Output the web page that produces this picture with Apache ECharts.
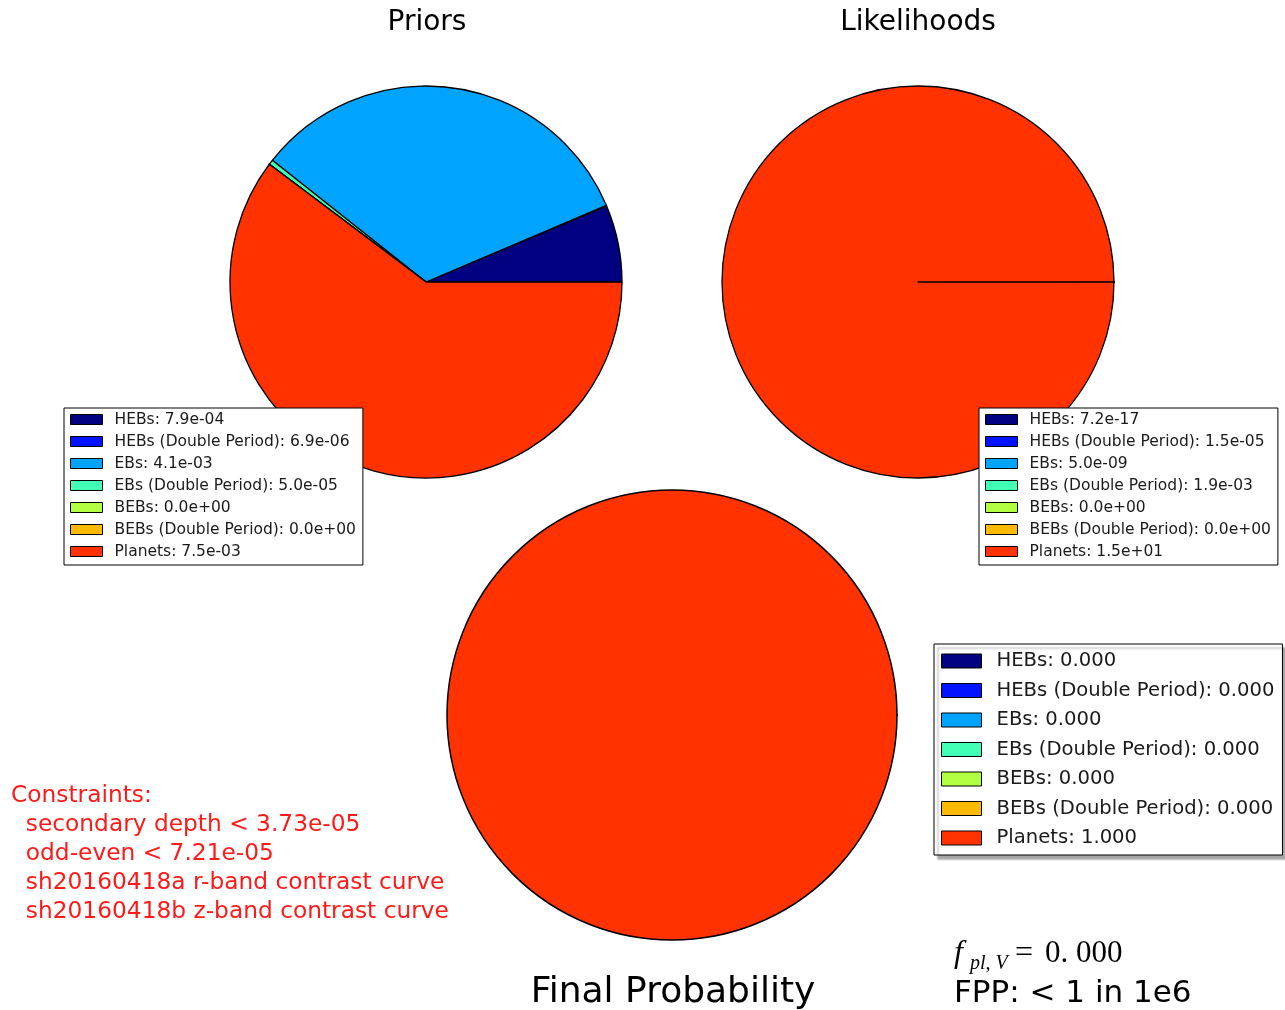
<!DOCTYPE html>
<html>
<head>
<meta charset="utf-8">
<script src="https://cdn.jsdelivr.net/npm/echarts@6/dist/echarts.min.js"></script>
<style>
  html, body { margin: 0; padding: 0; background: #fff; }
  #chart { width: 1285px; height: 1010px; }
</style>
</head>
<body>
<div id="chart"></div>
<script>
// scenario names, same order for all three pies
const categories = ['HEBs', 'HEBs (Double Period)', 'EBs', 'EBs (Double Period)', 'BEBs', 'BEBs (Double Period)', 'Planets'];
const priorValues = [7.9e-4, 6.9e-6, 4.1e-3, 5.0e-5, 0, 0, 7.5e-3];
const likelihoodValues = [7.2e-17, 1.5e-5, 5.0e-9, 1.9e-3, 0, 0, 1.5e1];
const finalValues = [0, 0, 0, 0, 0, 0, 1];
const sliceColors = ['#000080', '#0012ff', '#00a4ff', '#41ffb5', '#b1ff41', '#ffb900', '#ff3200'];
const constraintLines = ['Constraints:', '  secondary depth < 3.73e-05', '  odd-even < 7.21e-05', '  sh20160418a r-band contrast curve', '  sh20160418b z-band contrast curve'];
const fplValue = '0. 000';
const fppText = 'FPP: < 1 in 1e6';

function sci(v) {
  // matplotlib style 7.9e-04
  const s = v.toExponential(1);
  const [m, e] = s.split('e');
  const sign = e[0];
  let d = e.slice(1);
  if (d.length < 2) d = '0' + d;
  return m + 'e' + sign + d;
}

function buildData(values, fmt) {
  return values.map((v, i) => ({
    name: categories[i] + ': ' + fmt(v),
    value: v,
    itemStyle: { color: sliceColors[i] }
  }));
}

const priorData = buildData(priorValues, sci);
const likeData = buildData(likelihoodValues, sci);
const finalData = buildData(finalValues, (v) => v.toFixed(3));

const pieBase = {
  type: 'pie',
  startAngle: 0,
  clockwise: false,
  minAngle: 0,
  label: { show: false },
  labelLine: { show: false },
  emphasis: { disabled: true },
  itemStyle: { borderColor: '#000', borderWidth: 1.3 },
  animation: false
};

const smallLegend = {
  orient: 'vertical',
  icon: 'rect',
  itemWidth: 32,
  itemHeight: 10,
  itemGap: 5,
  padding: [3, 7, 5, 6],
  borderColor: '#000',
  borderWidth: 1,
  borderRadius: 0,
  backgroundColor: '#fff',
  selectedMode: false,
  itemStyle: { borderColor: '#000', borderWidth: 1 },
  textStyle: { fontFamily: 'DejaVu Sans', fontSize: 15.5, color: '#1a1a1a', lineHeight: 17, padding: [0, 0, 0, 7] }
};

const titleFont = { fontFamily: 'DejaVu Sans', fontWeight: 'normal', color: '#000' };

const chart = echarts.init(document.getElementById('chart'));

const textEls = [];
constraintLines.forEach((t, i) => {
  textEls.push({
    type: 'text',
    left: 11, top: 784 + i * 29,
    style: { text: t.replace(/^  /, '\u00a0\u00a0'), fill: '#ff1a1a', fontFamily: 'DejaVu Sans', fontSize: 23.3 }
  });
});

chart.setOption({
  animation: false,
  title: [
    { text: 'Priors', left: 427, top: 9, padding: 0, textAlign: 'center', textStyle: Object.assign({ fontSize: 28 }, titleFont) },
    { text: 'Likelihoods', left: 918, top: 9, padding: 0, textAlign: 'center', textStyle: Object.assign({ fontSize: 28 }, titleFont) },
    { text: 'Final Probability', left: 673, top: 975, padding: 0, textAlign: 'center', textStyle: Object.assign({ fontSize: 36 }, titleFont) }
  ],
  legend: [
    Object.assign({}, smallLegend, { left: 64, top: 408, data: priorData.map((d) => d.name) }),
    Object.assign({}, smallLegend, { left: 979, top: 408, data: likeData.map((d) => d.name) }),
    {
      orient: 'vertical',
      icon: 'rect',
      left: 934, top: 644,
      itemWidth: 40,
      itemHeight: 14,
      itemGap: 7.5,
      padding: [6, 8, 6, 7],
      borderColor: '#000',
      borderWidth: 1,
      backgroundColor: '#fff',
      shadowColor: 'rgba(0,0,0,0.35)',
      shadowBlur: 2,
      shadowOffsetX: 4,
      shadowOffsetY: 4,
      selectedMode: false,
      itemStyle: { borderColor: '#000', borderWidth: 1 },
      textStyle: { fontFamily: 'DejaVu Sans', fontSize: 19.6, color: '#1a1a1a', lineHeight: 22, padding: [0, 0, 0, 10] },
      data: finalData.map((d) => d.name)
    }
  ],
  series: [
    Object.assign({}, pieBase, { name: 'Priors', center: [426, 282], radius: 196, data: priorData }),
    Object.assign({}, pieBase, { name: 'Likelihoods', center: [918, 282], radius: 196, data: likeData }),
    Object.assign({}, pieBase, { name: 'Final', center: [672, 715], radius: 225, data: finalData, itemStyle: { borderColor: '#000', borderWidth: 1.5 } })
  ],
  graphic: textEls.concat([
    { type: 'text', left: 954, top: 938, style: { text: 'f', fill: '#000', fontFamily: 'Liberation Serif', fontStyle: 'italic', fontSize: 32 } },
    { type: 'text', left: 970, top: 954, style: { text: 'pl, V', fill: '#000', fontFamily: 'Liberation Serif', fontStyle: 'italic', fontSize: 20 } },
    { type: 'text', left: 1015, top: 938, style: { text: '=', fill: '#000', fontFamily: 'Liberation Serif', fontSize: 32 } },
    { type: 'text', left: 1045, top: 938, style: { text: fplValue, fill: '#000', fontFamily: 'Liberation Serif', fontSize: 31 } },
    { type: 'text', left: 954, top: 978, style: { text: fppText, fill: '#000', fontFamily: 'DejaVu Sans', fontSize: 31 } }
  ])
});
</script>
</body>
</html>
